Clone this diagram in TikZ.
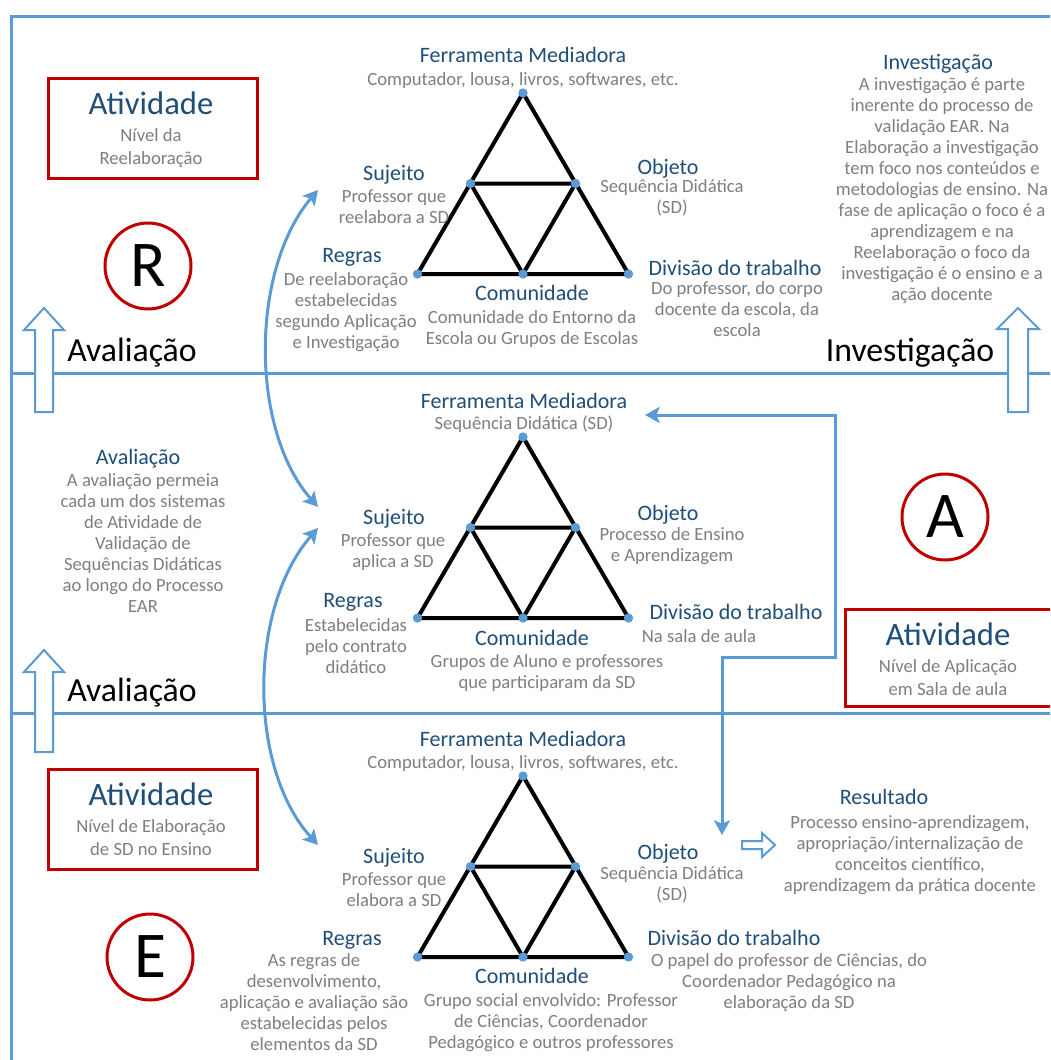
\documentclass[tikz,border=0pt]{standalone}
\usepackage{fontspec}
\setmainfont{Carlito}
\usetikzlibrary{arrows.meta}
\definecolor{lineblue}{HTML}{5B9BD5}
\definecolor{titleblue}{HTML}{1F4E79}
\definecolor{txtgray}{HTML}{7F7F7F}
\definecolor{boxred}{HTML}{C00000}
\tikzset{
  ttl/.style={font=\fontsize{16.5}{19.8}\selectfont, text=titleblue, inner sep=0pt, anchor=base, align=center},
  gtxt/.style={font=\fontsize{14}{15.7}\selectfont, text=txtgray, inner sep=0pt, anchor=base, align=center},
  gbox/.style={font=\fontsize{14}{17}\selectfont, text=txtgray, inner sep=0pt, anchor=base, align=center},
  atv/.style={font=\fontsize{24.5}{29}\selectfont, text=titleblue, inner sep=0pt, anchor=base},
  bigtxt/.style={font=\fontsize{25.3}{29}\selectfont, text=black, inner sep=0pt, anchor=base},
  redbox/.style={draw=boxred, line width=2.25pt, inner sep=0pt, anchor=north west},
  lettercirc/.style={circle, draw=boxred, line width=2.25pt, minimum size=64.5pt, inner sep=0pt, font=\fontsize{49}{50}\selectfont},
  tri/.style={draw=black, line width=3pt},
  vdot/.style={circle, fill=lineblue, inner sep=0pt, minimum size=7pt},
  conn/.style={draw=lineblue, line width=2.25pt},
  frameline/.style={draw=lineblue, line width=2.25pt},
  blockarr/.style={draw=lineblue, fill=white, line width=1.5pt, line join=miter},
  tipS/.tip={Stealth[length=11pt, width=12pt, inset=2.5pt]},
  actri/.pic={
    \coordinate (-A) at (0,0);
    \coordinate (-L) at (-52.5,90.5);
    \coordinate (-R) at (52.5,90.5);
    \coordinate (-BL) at (-105.5,181);
    \coordinate (-BM) at (0,181);
    \coordinate (-BR) at (105.5,181);
    \draw[tri] (-A) -- (-BL) -- (-BR) -- cycle;
    \draw[tri] (-L) -- (-R) -- (-BM) -- cycle;
    \node[vdot] (-a) at (-A) {};
    \node[vdot] (-l) at (-L) {};
    \node[vdot] (-r) at (-R) {};
    \node[vdot] (-bl) at (-BL) {};
    \node[vdot] (-bm) at (-BM) {};
    \node[vdot] (-br) at (-BR) {};
  }
}
\begin{document}
\begin{tikzpicture}[x=0.75pt,y=-0.75pt]
\path[use as bounding box] (0,0) rectangle (1050,1060);
\clip (0,0) rectangle (1050,1060);
\fill[white] (0,0) rectangle (1050,1060);

% frame and dividers
\draw[frameline] (1070,16) -| (11,1080);
\draw[frameline] (11,373) -- (1070,373);
\draw[frameline] (11,713) -- (1070,713);

% block arrows
\draw[blockarr] (35,412) -- (35,330) -- (24,330) -- (44,308) -- (64,330) -- (53,330) -- (53,412) -- cycle;
\draw[blockarr] (35,752) -- (35,672) -- (24,672) -- (44,650) -- (64,672) -- (53,672) -- (53,752) -- cycle;
\draw[blockarr] (1008,412) -- (1008,329) -- (997,329) -- (1018,308) -- (1039,329) -- (1028,329) -- (1028,412) -- cycle;
\draw[blockarr] (742,841) -- (762,841) -- (762,833) -- (775,845) -- (762,857) -- (762,849) -- (742,849) -- cycle;

% triangles
\pic (t1) at (523,93) {actri};
\pic (t2) at (523,437) {actri};
\pic (t3) at (523,776) {actri};

% ===== Section R =====
\node[redbox, minimum width=156.75pt, minimum height=75pt] (box1) at (47,77) {};
\node[atv] (box1t) at (151,114) {Atividade};
\node[gbox] (box1d) at (151,164) {Nível da\\Reelaboração};
\node[lettercirc] (circR) at (148,266) {R};
\node[bigtxt] (aval1) at (132,361) {Avaliação};
\node[bigtxt] (inv1) at (910,361) {Investigação};

\node[ttl] (fm1) at (523,62) {Ferramenta Mediadora};
\node[gtxt] (fm1d) at (523,85) {Computador, lousa, livros, softwares, etc.};
\node[ttl] (suj1) at (394,180) {Sujeito};
\node[gtxt] (suj1d) at (394,223) {Professor que\\reelabora a SD};
\node[ttl] (obj1) at (668,174) {Objeto};
\node[gtxt] (obj1d) at (672,213) {Sequência Didática\\(SD)};
\node[ttl] (reg1) at (352,262) {Regras};
\node[gtxt] (reg1d) at (346,348) {De reelaboração\\estabelecidas\\segundo Aplicação\\e Investigação};
\node[ttl] (com1) at (532,300) {Comunidade};
\node[gtxt] (com1d) at (532,344) {Comunidade do Entorno da\\Escola ou Grupos de Escolas};
\node[ttl] (div1) at (735,275) {Divisão do trabalho};
\node[gtxt] (div1d) at (737,336) {Do professor, do corpo\\docente da escola, da\\escola};
\node[ttl] (invt) at (938,69) {Investigação};
\node[gtxt] (invd) at (942,300) {A investigação é parte\\inerente do processo de\\validação EAR. Na\\Elaboração a investigação\\tem foco nos conteúdos e\\metodologias de ensino. Na\\fase de aplicação o foco é a\\aprendizagem e na\\Reelaboração o foco da\\investigação é o ensino e a\\ação docente};

% ===== Section A =====
\node[ttl] (fm2) at (524,408) {Ferramenta Mediadora};
\node[gtxt] (fm2d) at (524,429) {Sequência Didática (SD)};
\node[ttl] (avt) at (138,464) {Avaliação};
\node[gtxt] (avd) at (143,612) {A avaliação permeia\\cada um dos sistemas\\de Atividade de\\Validação de\\Sequências Didáticas\\ao longo do Processo\\EAR};
\node[ttl] (suj2) at (394,524) {Sujeito};
\node[gtxt] (suj2d) at (393,567) {Professor que\\aplica a SD};
\node[ttl] (obj2) at (668,520) {Objeto};
\node[gtxt] (obj2d) at (672,561) {Processo de Ensino\\e Aprendizagem};
\node[ttl] (reg2) at (353,607) {Regras};
\node[gtxt] (reg2d) at (356,673) {Estabelecidas\\pelo contrato\\didático};
\node[ttl] (com2) at (532,645) {Comunidade};
\node[gtxt] (com2d) at (547,688) {Grupos de Aluno e professores\\que participaram da SD};
\node[ttl] (div2) at (736,619) {Divisão do trabalho};
\node[gtxt] (div2d) at (699,642) {Na sala de aula};
\node[lettercirc] (circA) at (945,517) {A};
\node[redbox, minimum width=156pt, minimum height=72.75pt] (box2) at (844,608) {};
\node[atv] (box2t) at (948,645) {Atividade};
\node[gbox] (box2d) at (948,695) {Nível de Aplicação\\em Sala de aula};
\node[bigtxt] (aval2) at (132,701) {Avaliação};

% ===== Section E =====
\node[ttl] (fm3) at (523,746) {Ferramenta Mediadora};
\node[gtxt] (fm3d) at (523,768) {Computador, lousa, livros, softwares, etc.};
\node[redbox, minimum width=156.75pt, minimum height=75pt] (box3) at (47,768) {};
\node[atv] (box3t) at (151,805) {Atividade};
\node[gbox] (box3d) at (151,855) {Nível de Elaboração\\de SD no Ensino};
\node[ttl] (suj3) at (394,863) {Sujeito};
\node[gtxt] (suj3d) at (394,906) {Professor que\\elabora a SD};
\node[ttl] (obj3) at (668,859) {Objeto};
\node[gtxt] (obj3d) at (672,900) {Sequência Didática\\(SD)};
\node[ttl] (reg3) at (352,945) {Regras};
\node[gtxt] (reg3d) at (314,1050) {As regras de\\desenvolvimento,\\aplicação e avaliação são\\estabelecidas pelos\\elementos da SD};
\node[ttl] (com3) at (532,983) {Comunidade};
\node[gtxt] (com3d) at (551,1048) {Grupo social envolvido: Professor\\de Ciências, Coordenador\\Pedagógico e outros professores};
\node[ttl] (div3) at (734,945) {Divisão do trabalho};
\node[gtxt] (div3d) at (789,1008) {O papel do professor de Ciências, do\\Coordenador Pedagógico na\\elaboração da SD};
\node[ttl] (res) at (884,804) {Resultado};
\node[gtxt] (resd) at (910,891) {Processo ensino-aprendizagem,\\apropriação/internalização de\\conceitos científico,\\aprendizagem da prática docente};
\node[lettercirc] (circE) at (150,957) {E};

% ===== connectors =====
\coordinate (cu1s) at (318,190);
\coordinate (cu1e) at (318,507);
\coordinate (cu2s) at (318,528);
\coordinate (cu2e) at (318,845);
\draw[conn, tipS-tipS] (cu1s) .. controls (250,270) and (250,430) .. (cu1e);
\draw[conn, tipS-tipS] (cu2s) .. controls (248,608) and (248,768) .. (cu2e);

\coordinate (pl1) at (645,415);
\coordinate (pk1) at (835,657);
\coordinate (pk2) at (722,657);
\coordinate (pl2) at (722,835);
\draw[conn, tipS-tipS] (pl1) -| (pk1) -- (pk2) -- (pl2);
\end{tikzpicture}
\end{document}
